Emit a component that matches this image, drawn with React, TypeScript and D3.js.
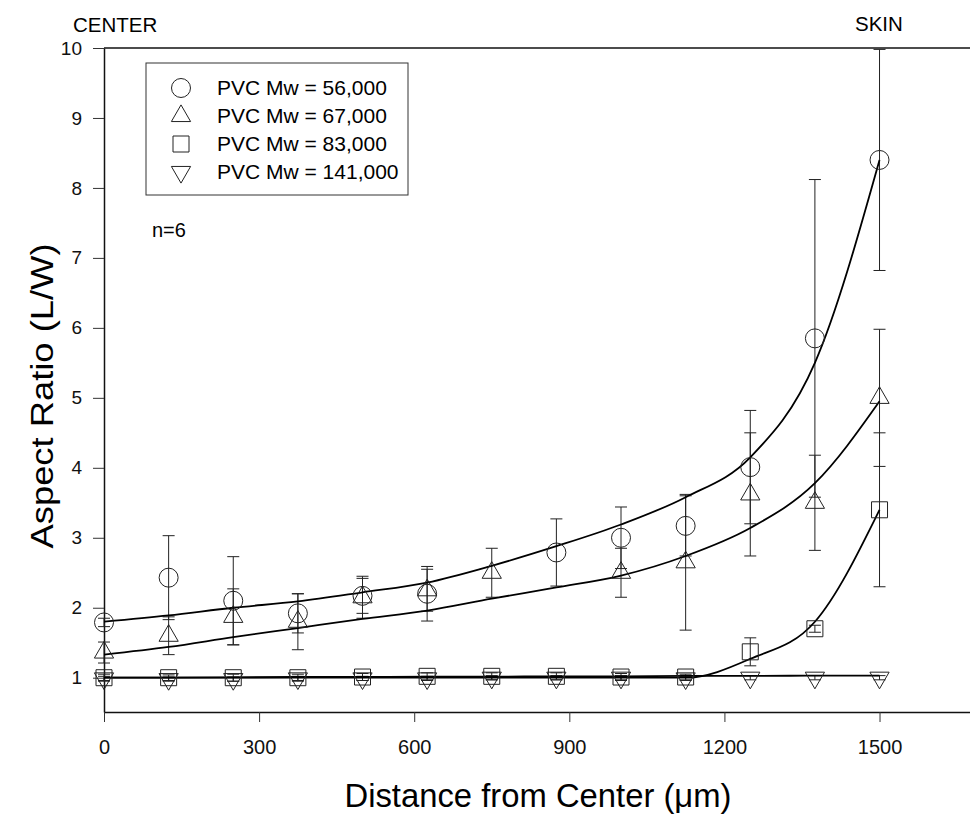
import React, { useEffect, useRef } from 'react'
import * as d3 from 'd3'

// distance from center (um)
const distance = [0, 125, 250, 375, 500, 625, 750, 875, 1000, 1125, 1250, 1375, 1500]

// mean aspect ratio per series (null = not plotted)
const mw56 = [1.79, 2.43, 2.1, 1.92, 2.17, 2.2, null, 2.79, 3.0, 3.17, 4.01, 5.85, 8.4]
const mw67 = [1.36, 1.6, 1.87, 1.8, 2.15, 2.25, 2.5, null, 2.5, 2.65, 3.62, 3.5, 5.0]
const mw83 = [1.0, 1.0, 1.0, 1.0, 1.01, 1.02, 1.02, 1.02, 1.01, 1.01, 1.37, 1.7, 3.4]
const mw141 = [0.99, 0.98, 0.98, 0.99, 0.99, 0.99, 1.0, 1.0, 1.0, 0.99, 1.0, 1.0, 1.0]

// standard deviations
const sd56 = [0.06, 0.6, 0.63, 0.28, 0.25, 0.39, null, 0.48, 0.44, 0.43, 0.81, 2.27, 1.58]
const sd67 = [0.15, 0.27, 0.4, 0.4, 0.3, 0.3, 0.35, null, 0.35, 0.97, 0.88, 0.68, 0.98]
const sd83 = [0.05, 0.04, 0.05, 0.05, 0.05, 0.05, 0.05, 0.05, 0.05, 0.04, 0.2, 0.05, 1.1]
const sd141 = [0.03, 0.03, 0.03, 0.03, 0.03, 0.03, 0.03, 0.03, 0.03, 0.03, 0.03, 0.03, 0.03]

// fitted curves drawn through each series
const fit56 = [1.8, 1.89, 2.0, 2.09, 2.22, 2.36, 2.6, 2.88, 3.19, 3.58, 4.15, 5.5, 8.4]
const fit67 = [1.33, 1.44, 1.58, 1.71, 1.84, 1.96, 2.13, 2.29, 2.46, 2.74, 3.14, 3.78, 4.95]
const fit83 = [1.0, 1.0, 1.0, 1.0, 1.0, 1.0, 1.0, 1.0, 1.0, 1.0, 1.27, 1.8, 3.4]
const fit141 = [1.0, 1.0, 1.005, 1.01, 1.01, 1.015, 1.015, 1.02, 1.02, 1.025, 1.025, 1.03, 1.03]

const legendLabels = ['PVC Mw = 56,000', 'PVC Mw = 67,000', 'PVC Mw = 83,000', 'PVC Mw = 141,000']
const xTicks = [0, 300, 600, 900, 1200, 1500]
const yTicks = [1, 2, 3, 4, 5, 6, 7, 8, 9, 10]

const FONT = '"Liberation Sans", Arial, sans-serif'

export default function App() {
    const svgRef = useRef<SVGSVGElement | null>(null)
    const width = 970
    const height = 814

    useEffect(() => {
        const svg = d3.select(svgRef.current)
        svg.selectAll('*').remove()

        const x = d3.scaleLinear().domain([0, 1675]).range([104, 970])
        const y = d3.scaleLinear().domain([0.51, 10]).range([712, 48])

        // frame: top line
        svg.append('line')
            .attr('x1', x(0)).attr('x2', width)
            .attr('y1', y(10)).attr('y2', y(10))
            .attr('stroke', '#111').attr('stroke-width', 1.5)

        // y axis
        const gy = svg.append('g')
            .attr('transform', `translate(${x(0)},0)`)
            .call(d3.axisLeft(y).tickValues(yTicks).tickSize(11).tickPadding(11).tickSizeOuter(0))
        gy.select('.domain').attr('stroke', '#111').attr('stroke-width', 1.5)
        gy.selectAll('.tick line').attr('stroke', '#333')
        gy.selectAll('.tick text').attr('font-family', FONT).attr('font-size', 19).attr('fill', '#111')

        // x axis
        const gx = svg.append('g')
            .attr('transform', `translate(0,${y.range()[0]})`)
            .call(d3.axisBottom(x).tickValues(xTicks).tickFormat(d3.format('d')).tickSize(10).tickPadding(18).tickSizeOuter(0))
        gx.select('.domain').attr('stroke', '#111').attr('stroke-width', 1.5)
        gx.selectAll('.tick line').attr('stroke', '#333')
        gx.selectAll('.tick text').attr('font-family', FONT).attr('font-size', 20).attr('fill', '#111')

        // titles
        svg.append('text')
            .attr('x', 538).attr('y', 807)
            .attr('text-anchor', 'middle')
            .attr('font-family', FONT).attr('font-size', 33)
            .attr('textLength', 387).attr('lengthAdjust', 'spacingAndGlyphs')
            .text('Distance from Center (\u03bcm)')
        svg.append('text')
            .attr('transform', 'translate(53,396) rotate(-90)')
            .attr('text-anchor', 'middle')
            .attr('font-family', FONT).attr('font-size', 31)
            .attr('textLength', 305).attr('lengthAdjust', 'spacingAndGlyphs')
            .text('Aspect Ratio (L/W)')

        svg.append('text').attr('x', 73).attr('y', 32)
            .attr('font-family', FONT).attr('font-size', 20.5).text('CENTER')
        svg.append('text').attr('x', 855).attr('y', 31)
            .attr('font-family', FONT).attr('font-size', 20.5).text('SKIN')
        svg.append('text').attr('x', 152).attr('y', 237)
            .attr('font-family', FONT).attr('font-size', 20).text('n=6')

        const series = [
            { mean: mw56, sd: sd56, fit: fit56, symbol: d3.symbolCircle, size: 283, rotate: 0 },
            { mean: mw67, sd: sd67, fit: fit67, symbol: d3.symbolTriangle, size: 160, rotate: 0 },
            { mean: mw83, sd: sd83, fit: fit83, symbol: d3.symbolSquare, size: 256, rotate: 0 },
            { mean: mw141, sd: sd141, fit: fit141, symbol: d3.symbolTriangle, size: 160, rotate: 180 }
        ]

        const line = d3.line<number>()
            .x((d, i) => x(distance[i]))
            .y(d => y(d))
            .curve(d3.curveMonotoneX)

        // error bars
        series.forEach(s => {
            const g = svg.append('g').attr('stroke', '#222').attr('stroke-width', 1)
            distance.forEach((dist, i) => {
                const m = s.mean[i]
                const e = s.sd[i]
                if (m == null || e == null) return
                const cx = x(dist)
                const top = y(Math.min(m + e, 10))
                const bot = y(m - e)
                g.append('line').attr('x1', cx).attr('x2', cx).attr('y1', top).attr('y2', bot)
                g.append('line').attr('x1', cx - 6).attr('x2', cx + 6).attr('y1', top).attr('y2', top)
                g.append('line').attr('x1', cx - 6).attr('x2', cx + 6).attr('y1', bot).attr('y2', bot)
            })
        })

        // fitted curves
        series.forEach(s => {
            svg.append('path')
                .attr('d', line(s.fit))
                .attr('fill', 'none')
                .attr('stroke', '#000')
                .attr('stroke-width', 1.8)
        })

        // markers
        series.forEach(s => {
            const path = d3.symbol().type(s.symbol).size(s.size)()
            distance.forEach((dist, i) => {
                const m = s.mean[i]
                if (m == null) return
                svg.append('path')
                    .attr('d', path)
                    .attr('transform', `translate(${x(dist)},${y(m)}) rotate(${s.rotate})`)
                    .attr('fill', 'none')
                    .attr('stroke', '#222')
                    .attr('stroke-width', 1)
            })
        })

        // legend
        const lg = svg.append('g')
        lg.append('rect')
            .attr('x', 146).attr('y', 63).attr('width', 262).attr('height', 132)
            .attr('fill', 'none').attr('stroke', '#333').attr('stroke-width', 1)
        series.forEach((s, i) => {
            const cy = 88 + i * 28
            lg.append('path')
                .attr('d', d3.symbol().type(s.symbol).size(s.size)())
                .attr('transform', `translate(181,${cy}) rotate(${s.rotate})`)
                .attr('fill', 'none').attr('stroke', '#222').attr('stroke-width', 1)
            lg.append('text')
                .attr('x', 217).attr('y', cy + 7)
                .attr('font-family', FONT).attr('font-size', 21)
                .text(legendLabels[i])
        })
    }, [])

    return (
        <svg ref={svgRef} width={width} height={height} style={{ position: 'absolute', left: 0, top: 0, background: '#fff' }} />
    )
}
